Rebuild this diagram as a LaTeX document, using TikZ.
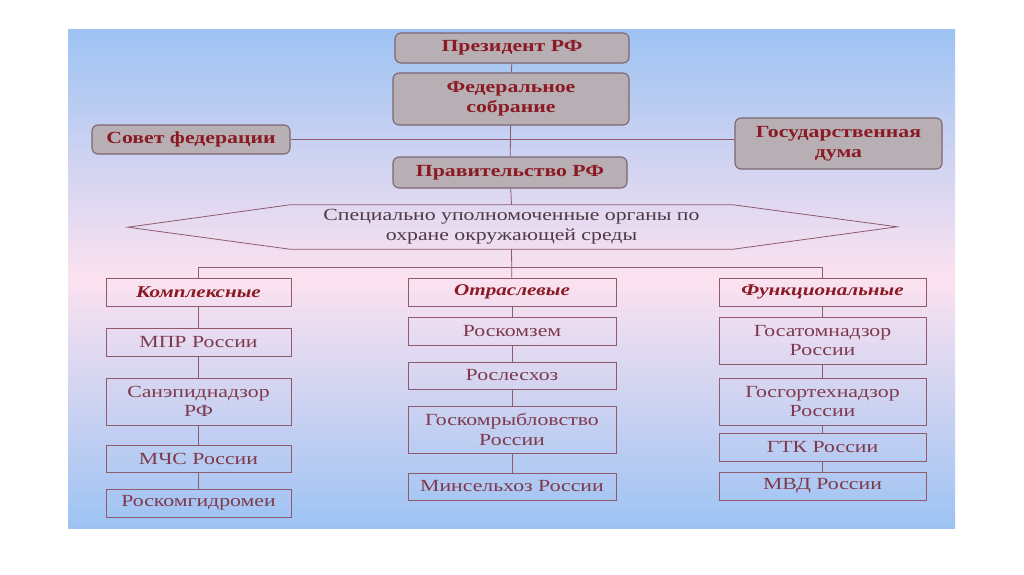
\documentclass[tikz,border=0pt]{standalone}
\usepackage{fontspec}
\setmainfont{Liberation Serif}[FakeStretch=1.28]
\usetikzlibrary{calc}
\definecolor{bgblue}{HTML}{9DC3F3}
\definecolor{bgpink}{HTML}{FCE2F0}
\definecolor{boxgray}{HTML}{B7AFB3}
\definecolor{boxline}{HTML}{7D6670}
\definecolor{darkred}{HTML}{8B1A24}
\definecolor{orgred}{HTML}{7E3A4C}
\definecolor{hextext}{HTML}{4E3A46}
\definecolor{frameline}{HTML}{8E5A6C}
\tikzset{
  topbox/.style={draw=boxline, fill=boxgray, rounded corners=6pt, line width=1.1pt,
    inner sep=0pt, align=center, text=darkred, font=\bfseries\fontsize{17}{20}\selectfont},
  headbox/.style={draw=frameline, line width=0.8pt, inner sep=0pt, align=center,
    text=darkred, font=\bfseries\itshape\fontsize{16.5}{19}\selectfont},
  orgbox/.style={draw=frameline, line width=0.8pt, inner sep=0pt, align=center,
    text=orgred, font=\fontsize{17}{19.5}\selectfont},
  link/.style={draw=frameline, line width=0.8pt}
}

\begin{document}
\begin{tikzpicture}[x=1pt, y=-1pt]
			%%%%% BACKGROUND %%%%%
			\fill[white] (0, 0) rectangle (1024, 574);
			\shade[top color=bgblue, bottom color=bgblue, middle color=bgpink] (68, 29) rectangle (955, 528);
			
			%%%%% TOP LEVEL %%%%%
			\node[topbox, minimum width=234pt, minimum height=30pt] (pres) at (512, 48) {Президент РФ};
			\node[topbox, minimum width=236pt, minimum height=52pt] (fed) at (511, 99) {Федеральное\\собрание};
			\node[topbox, minimum width=198pt, minimum height=29pt] (sovet) at (191, 139.5) {Совет федерации};
			\node[topbox, minimum width=207pt, minimum height=51pt] (duma) at (838.5, 143.5) {Государственная\\дума};
			\node[topbox, minimum width=234pt, minimum height=31pt] (prav) at (510, 172.5) {Правительство РФ};
			
			\node[inner sep=0pt, minimum width=443pt, minimum height=44pt, align=center, text=hextext,
				font=\fontsize{17}{20}\selectfont] (spec) at (511.5, 227)
				{Специально уполномоченные органы по\\охране окружающей среды};
			\draw[link] (spec.north west) -- (spec.north east) -- ++(164, 22) -- (spec.south east)
				-- (spec.south west) -- ++(-162, -22) -- cycle;
			
			%%%%% COLUMNS %%%%%
			\node[headbox, minimum width=185pt, minimum height=28pt] (kompl) at (198.5, 292) {Комплексные};
			\node[orgbox, minimum width=185pt, minimum height=28pt] (mpr) at (198.5, 342) {МПР России};
			\node[orgbox, minimum width=185pt, minimum height=47pt] (sanep) at (198.5, 401.5) {Санэпиднадзор\\РФ};
			\node[orgbox, minimum width=185pt, minimum height=27pt] (mchs) at (198.5, 458.5) {МЧС России};
			\node[orgbox, minimum width=185pt, minimum height=28pt] (gidro) at (198.5, 503) {Роскомгидромеи};
			
			\node[headbox, minimum width=208pt, minimum height=28pt] (otr) at (512, 292) {Отраслевые};
			\node[orgbox, minimum width=208pt, minimum height=28pt] (zem) at (512, 331) {Роскомзем};
			\node[orgbox, minimum width=208pt, minimum height=27pt] (les) at (512, 375.5) {Рослесхоз};
			\node[orgbox, minimum width=208pt, minimum height=47pt] (ryb) at (512, 429.5) {Госкомрыбловство\\России};
			\node[orgbox, minimum width=208pt, minimum height=27pt] (selhoz) at (512, 486.5) {Минсельхоз России};
			
			\node[headbox, minimum width=207pt, minimum height=28pt] (funk) at (822.5, 292) {Функциональные};
			\node[orgbox, minimum width=207pt, minimum height=47pt] (atom) at (822.5, 340.5) {Госатомнадзор\\России};
			\node[orgbox, minimum width=207pt, minimum height=47pt] (gort) at (822.5, 401.5) {Госгортехнадзор\\России};
			\node[orgbox, minimum width=207pt, minimum height=28pt] (gtk) at (822.5, 447) {ГТК России};
			\node[orgbox, minimum width=207pt, minimum height=28pt] (mvd) at (822.5, 486) {МВД России};
			
			%%%%% LINKS %%%%%
			\coordinate (branch) at (512, 267);
			\draw[link] (pres) -- (fed);
			\draw[link] (fed) -- (prav);
			\draw[link] (prav) -- (spec.north);
			\draw[link] (sovet.east) -- (sovet.east -| duma.west);
			\draw[link] (spec.south) -- (otr);
			\draw[link] (kompl) -- (kompl.north |- branch) -- (funk.north |- branch) -- (funk);
			
			\draw[link] (kompl) -- (mpr);
			\draw[link] (mpr) -- (sanep);
			\draw[link] (sanep) -- (mchs);
			\draw[link] (mchs) -- (gidro);
			
			\draw[link] (otr) -- (zem);
			\draw[link] (zem) -- (les);
			\draw[link] (les) -- (ryb);
			\draw[link] (ryb) -- (selhoz);
			
			\draw[link] (funk) -- (atom);
			\draw[link] (atom) -- (gort);
			\draw[link] (gort) -- (gtk);
			\draw[link] (gtk) -- (mvd);
\end{tikzpicture}
\end{document}
